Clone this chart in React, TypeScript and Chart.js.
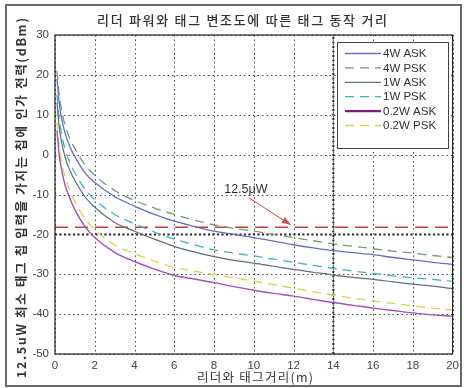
import React, { useEffect, useRef } from 'react';
import { Chart, registerables } from 'chart.js';

Chart.register(...registerables);

const TITLE = '리더 파워와 태그 변조도에 따른 태그 동작 거리';
const X_TITLE = '리더와 태그거리(m)';
const Y_TITLE = '12.5uW 최소 태그 칩 입력을 가지는 칩에 인가 전력(dBm)';
const ANNOTATION_LABEL = '12.5μW';

const distances = [0.1, 0.2, 0.3, 0.5, 0.75, 1, 1.5, 2, 3, 4, 5, 6, 7, 8, 9, 10, 11, 12, 13, 14, 15, 16, 17, 18, 19, 20];

const ask4W = [19, 13.5, 10, 5.5, 2, -0.5, -4.5, -7, -10.5, -12.9, -15, -16.7, -18, -19.2, -20, -20.8, -21.7, -22.6, -23.4, -24.1, -24.6, -25.1, -25.8, -26.4, -27, -27.5];
const psk4W = [21, 15.5, 12, 7.5, 4, 1.5, -2.5, -5.2, -9, -11.5, -13.4, -15, -16.4, -17.6, -18.5, -19.2, -20, -20.8, -21.6, -22.4, -23, -23.6, -24.2, -24.7, -25.3, -25.8];
const ask1W = [13, 7.5, 4, -0.5, -4, -6.5, -10.5, -13.2, -17, -19.2, -21.2, -23, -24.4, -25.6, -26.5, -27.2, -28, -28.8, -29.5, -30.2, -30.8, -31.3, -31.9, -32.5, -33, -33.6];
const psk1W = [15, 9.5, 6, 1.5, -2, -4.6, -8.6, -11.3, -15, -17.3, -19.4, -21.2, -22.6, -23.9, -24.7, -25.4, -26.2, -27, -27.8, -28.5, -29.2, -29.8, -30.4, -30.9, -31.3, -31.8];
const ask02W = [6, 0.5, -3, -7.5, -11, -13.8, -18, -20.8, -24.5, -26.8, -28.7, -30.3, -31.2, -32.1, -33.1, -34, -34.8, -35.5, -36.3, -37.1, -37.8, -38.5, -39.1, -39.7, -40.2, -40.5];
const psk02W = [8, 2.5, -1, -5.5, -9, -11.8, -16, -18.8, -22.6, -24.8, -26.7, -28.3, -29.2, -30.1, -30.9, -31.7, -32.6, -33.5, -34.4, -35.2, -36, -36.7, -37.3, -37.9, -38.5, -39.0];

const seriesNames = ['4W ASK', '4W PSK', '1W ASK', '1W PSK', '0.2W ASK', '0.2W PSK'];

const thresholdDbm = -18.2;
const markerDbm = -20;
const markerDistance = 14;
const xRange = [0, 20];
const yRange = [-50, 30];
const xStep = 2;
const yStep = 10;
// annotation arrow (data coordinates)
const arrowFrom = { x: 9.75, y: -10.8 };
const arrowTo = { x: 11.85, y: -17.6 };
const labelAt = { x: 9.6, y: -8.7 };

const KR = "'Noto Sans CJK KR', 'Noto Sans', sans-serif";
const LAT = "'Liberation Sans', Arial, sans-serif";

function pts(values: number[]) {
  return distances.map((d, i) => ({ x: d, y: values[i] }));
}

function drawSpacedText(ctx: CanvasRenderingContext2D, text: string, x: number, y: number, target: number) {
  (ctx as any).letterSpacing = '0px';
  const w = ctx.measureText(text).width;
  const n = Array.from(text).length;
  const sp = Math.max(0, (target - w) / Math.max(1, n - 1));
  (ctx as any).letterSpacing = sp + 'px';
  const w2 = ctx.measureText(text).width;
  ctx.textAlign = 'left';
  ctx.fillText(text, x - w2 / 2 + sp / 2, y);
  (ctx as any).letterSpacing = '0px';
}

const decorPlugin = {
  id: 'decor',
  beforeDraw(chart: any) {
    const ctx = chart.ctx;
    ctx.save();
    ctx.fillStyle = '#ffffff';
    ctx.fillRect(0, 0, chart.width, chart.height);
    ctx.strokeStyle = '#6a6a6a';
    ctx.lineWidth = 2;
    ctx.strokeRect(6, 5, chart.width - 9, chart.height - 7);
    ctx.restore();
  },
  beforeDatasetsDraw(chart: any) {
    const ctx = chart.ctx;
    const xs = chart.scales.x;
    const ys = chart.scales.y;
    const a = chart.chartArea;
    ctx.save();
    ctx.strokeStyle = '#4a4a4a';
    ctx.lineWidth = 1;
    ctx.setLineDash([1.5, 3]);
    xs.ticks.forEach((t: any) => {
      const px = Math.round(xs.getPixelForValue(t.value)) + 0.5;
      ctx.beginPath();
      ctx.moveTo(px, a.top);
      ctx.lineTo(px, a.bottom);
      ctx.stroke();
    });
    ys.ticks.forEach((t: any) => {
      const py = Math.round(ys.getPixelForValue(t.value)) + 0.5;
      ctx.beginPath();
      ctx.moveTo(a.left, py);
      ctx.lineTo(a.right, py);
      ctx.stroke();
    });
    ctx.restore();
  },
  afterDraw(chart: any) {
    const ctx = chart.ctx;
    const xs = chart.scales.x;
    const ys = chart.scales.y;
    const a = chart.chartArea;
    ctx.save();
    // plot box
    ctx.strokeStyle = '#222';
    ctx.lineWidth = 1.2;
    ctx.setLineDash([]);
    ctx.strokeRect(a.left, a.top, a.right - a.left, a.bottom - a.top);

    // title
    ctx.fillStyle = '#333';
    ctx.textBaseline = 'middle';
    ctx.font = `500 13px ${KR}`;
    drawSpacedText(ctx, TITLE, 242, 20, 290);

    // x title
    ctx.font = `12.5px ${KR}`;
    drawSpacedText(ctx, X_TITLE, 255, 377, 116);

    // y title
    ctx.save();
    ctx.translate(21, 198);
    ctx.rotate(-Math.PI / 2);
    ctx.font = `600 12.5px ${KR}`;
    drawSpacedText(ctx, Y_TITLE, 0, 0, 360);
    ctx.restore();

    // annotation arrow
    const x1 = xs.getPixelForValue(arrowFrom.x);
    const y1 = ys.getPixelForValue(arrowFrom.y);
    const x2 = xs.getPixelForValue(arrowTo.x);
    const y2 = ys.getPixelForValue(arrowTo.y);
    ctx.strokeStyle = '#c8504a';
    ctx.fillStyle = '#c8504a';
    ctx.lineWidth = 1;
    ctx.beginPath();
    ctx.moveTo(x1, y1);
    ctx.lineTo(x2, y2);
    ctx.stroke();
    const ang = Math.atan2(y2 - y1, x2 - x1);
    const L = 9, W = 3.5;
    ctx.beginPath();
    ctx.moveTo(x2, y2);
    ctx.lineTo(x2 - L * Math.cos(ang) + W * Math.sin(ang), y2 - L * Math.sin(ang) - W * Math.cos(ang));
    ctx.lineTo(x2 - L * Math.cos(ang) - W * Math.sin(ang), y2 - L * Math.sin(ang) + W * Math.cos(ang));
    ctx.closePath();
    ctx.fill();
    ctx.fillStyle = '#333';
    ctx.font = `12.5px ${LAT}`;
    ctx.textAlign = 'center';
    ctx.textBaseline = 'middle';
    ctx.fillText(ANNOTATION_LABEL, xs.getPixelForValue(labelAt.x), ys.getPixelForValue(labelAt.y));

    // legend
    const bx = 337, by = 42, bw = 111, bh = 106;
    ctx.fillStyle = '#ffffff';
    ctx.fillRect(bx, by, bw, bh);
    ctx.strokeStyle = '#444';
    ctx.lineWidth = 1;
    ctx.strokeRect(bx + 0.5, by + 0.5, bw, bh);
    const rowH = 14.4;
    chart.data.datasets.forEach((ds: any) => {
      const idx = seriesNames.indexOf(ds.label);
      if (idx < 0) return;
      const yy = by + 11.5 + idx * rowH;
      ctx.strokeStyle = ds.legendColor || ds.borderColor;
      ctx.lineWidth = ds.legendWidth || ds.borderWidth;
      ctx.setLineDash(ds.borderDash || []);
      ctx.beginPath();
      ctx.moveTo(bx + 8, yy);
      ctx.lineTo(bx + 44, yy);
      ctx.stroke();
      ctx.setLineDash([]);
      ctx.fillStyle = '#333';
      ctx.font = `11.5px ${LAT}`;
      ctx.textAlign = 'left';
      ctx.textBaseline = 'middle';
      ctx.fillText(ds.label, bx + 46, yy + 0.5);
    });
    ctx.restore();
  },
};

export default function App() {
  const ref = useRef<HTMLCanvasElement | null>(null);
  useEffect(() => {
    if (!ref.current) return;
    const dashed = [9, 6];
    const mk = (label: string, values: number[], color: string, dash: number[] | undefined, width: number, extra: any = {}) => ({
      label,
      data: pts(values),
      borderColor: color,
      backgroundColor: color,
      borderWidth: width,
      borderDash: dash,
      pointRadius: 0,
      fill: false,
      cubicInterpolationMode: 'monotone',
      ...extra,
    });
    const chart = new Chart(ref.current, {
      type: 'line',
      data: {
        datasets: [
          mk('4W ASK', ask4W, '#6c6cc6', undefined, 1.3),
          mk('4W PSK', psk4W, '#6f9d6f', dashed, 1.3),
          mk('1W ASK', ask1W, '#5b7272', undefined, 1.2),
          mk('1W PSK', psk1W, '#3fb6b6', dashed, 1.3),
          mk('0.2W ASK', ask02W, '#a452b8', undefined, 1.4, { legendColor: '#7a1f7e', legendWidth: 2.2 }),
          mk('0.2W PSK', psk02W, '#d4d44a', dashed, 1.3),
          {
            label: 'threshold',
            data: [{ x: xRange[0], y: thresholdDbm }, { x: xRange[1], y: thresholdDbm }],
            borderColor: '#c83c3c', borderWidth: 1.6, borderDash: [13, 7], pointRadius: 0,
          },
          {
            label: 'markerH',
            data: [{ x: xRange[0], y: markerDbm }, { x: xRange[1], y: markerDbm }],
            borderColor: '#222', borderWidth: 2, borderDash: [2, 2.5], pointRadius: 0,
          },
          {
            label: 'markerV',
            data: [{ x: markerDistance, y: yRange[0] }, { x: markerDistance, y: yRange[1] }],
            borderColor: '#222', borderWidth: 2, borderDash: [2, 2.5], pointRadius: 0,
          },
        ] as any,
      },
      options: {
        animation: false,
        responsive: false,
        devicePixelRatio: 1,
        layout: { padding: { left: 0, right: 7, top: 35, bottom: 0 } },
        plugins: { legend: { display: false }, title: { display: false }, tooltip: { enabled: false } },
        scales: {
          x: {
            type: 'linear',
            min: xRange[0],
            max: xRange[1],
            afterFit: (s: any) => { s.height = 34; },
            border: { display: false },
            grid: { display: false, drawTicks: false },
            ticks: { stepSize: xStep, padding: 5, color: '#444', font: { family: LAT, size: 11.5 } },
          },
          y: {
            type: 'linear',
            min: yRange[0],
            max: yRange[1],
            afterFit: (s: any) => { s.width = 55; },
            border: { display: false },
            grid: { display: false, drawTicks: false },
            ticks: { stepSize: yStep, padding: 6, color: '#444', font: { family: LAT, size: 11.5 } },
          },
        },
      } as any,
      plugins: [decorPlugin],
    });
    return () => chart.destroy();
  }, []);
  return (
    <div style={{ position: 'absolute', left: 0, top: 0, width: 464, height: 388 }}>
      <canvas ref={ref} width={464} height={388} style={{ display: 'block', width: 464, height: 388 }} />
    </div>
  );
}
